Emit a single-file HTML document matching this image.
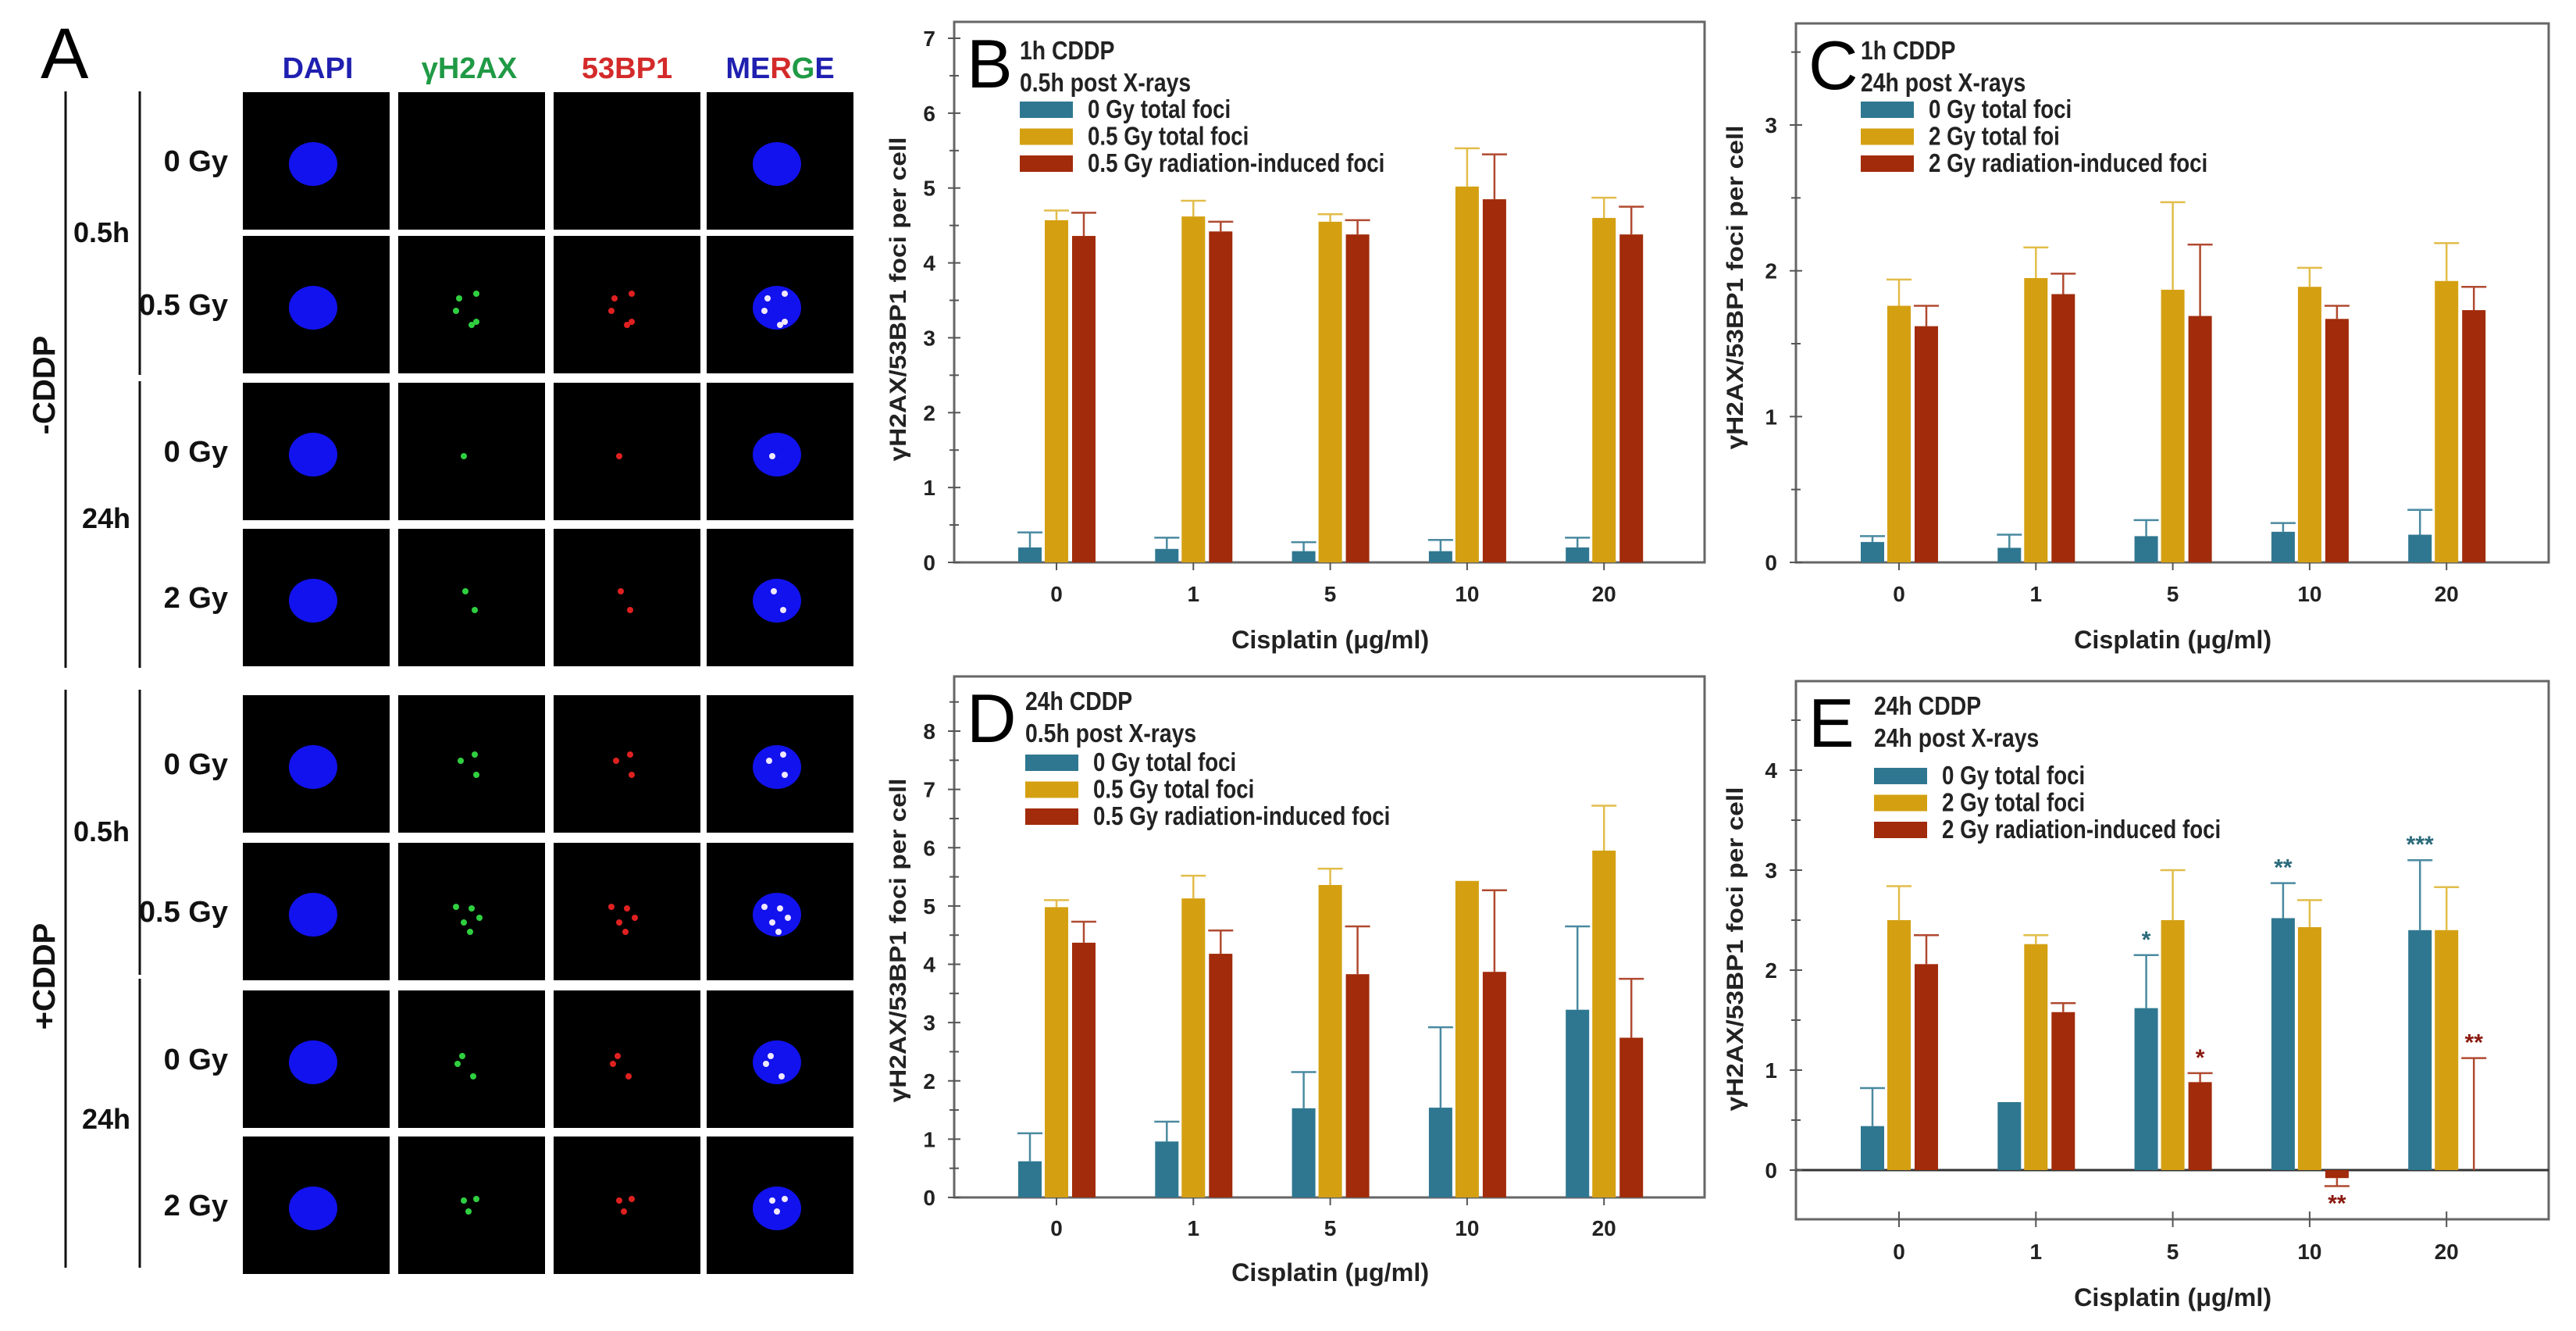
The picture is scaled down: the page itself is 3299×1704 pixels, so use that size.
<!DOCTYPE html>
<html><head><meta charset="utf-8"><style>
html,body{margin:0;padding:0;background:#fff;}
svg{display:block;font-family:"Liberation Sans",Arial,sans-serif;}
</style></head><body>
<svg id="fig" width="3299" height="1704" viewBox="0 0 3299 1704" xmlns="http://www.w3.org/2000/svg">
<g id="panelA">
<text x="52" y="100" font-size="92" fill="#000">A</text>
<text x="407" y="100" font-size="38" font-weight="bold" fill="#1f1fb0" text-anchor="middle">DAPI</text>
<text x="601" y="100" font-size="38" font-weight="bold" fill="#1f9a45" text-anchor="middle">γH2AX</text>
<text x="803" y="100" font-size="38" font-weight="bold" fill="#d42a2a" text-anchor="middle">53BP1</text>
<text x="999" y="100" font-size="38" font-weight="bold" text-anchor="middle"><tspan fill="#1f1fb0">ME</tspan><tspan fill="#d42a2a">R</tspan><tspan fill="#1f9a45">G</tspan><tspan fill="#1f1fb0">E</tspan></text>
</g>
<g id="panels"></g>
</svg>
<script>
// ---------- Panel A layout ----------
const NS="http://www.w3.org/2000/svg";
function mk(tag,attrs,parent){const e=document.createElementNS(NS,tag);for(const k in attrs)e.setAttribute(k,attrs[k]);parent.appendChild(e);return e;}
const pA=document.getElementById('panelA');
const colX=[311,510,709,905], cw=188;
const rowY=[118,302,490,677,890,1079,1268,1455], rh=176;
const rowLabels=["0 Gy","0.5 Gy","0 Gy","2 Gy","0 Gy","0.5 Gy","0 Gy","2 Gy"];
const foci=[[],[[-12,-12],[10,-18],[-16,4],[4,22],[10,18]],[[-6,2]],[[-4,-12],[8,12]],
 [[-10,-8],[8,-16],[10,10]],[[-16,-10],[4,-8],[-6,10],[14,4],[2,22]],[[-8,-8],[-14,2],[6,18]],[[-6,-10],[10,-12],[0,4]]];
rowY.forEach((y,ri)=>{
  const t=mk('text',{x:292,y:y+rh/2+13,'font-size':38,'font-weight':'bold','text-anchor':'end',fill:'#111'},pA);
  t.textContent=rowLabels[ri];
  
  
  colX.forEach((x,ci)=>{
    const g=mk('g',{},pA);
    
    
    mk('rect',{x:x,y:y,width:cw,height:rh,fill:'#000'},g);
    const cx=x+cw/2-4, cy=y+rh/2+4;
    if(ci===0||ci===3) mk('ellipse',{cx:cx,cy:cy,rx:31,ry:28,fill:'#1212ee'},g);
    const col=ci===1?'#2fd040':ci===2?'#e02020':'#f0e8ff';
    if(ci>0) foci[ri].forEach(p=>mk('circle',{cx:cx+p[0],cy:cy+p[1],r:4,fill:col},g));
  });
});
const lines=[[84,117,84,855],[179,117,179,480],[179,488,179,855],[84,883,84,1623],[179,883,179,1248],[179,1253,179,1623]];
lines.forEach((l,i)=>{const e=mk('line',{x1:l[0],y1:l[1],x2:l[2],y2:l[3],stroke:'#111','stroke-width':3},pA);
 
 });
const grpLbl=[["0.5h",130,310],["24h",136,676],["0.5h",130,1077],["24h",136,1445]];
grpLbl.forEach((g,i)=>{const t=mk('text',{x:g[1],y:g[2],'font-size':36,'font-weight':'bold','text-anchor':'middle',fill:'#111'},pA);t.textContent=g[0];
 
 });
[["-CDDP",493],["+CDDP",1250]].forEach((c,i)=>{const t=mk('text',{x:0,y:0,'font-size':40,'font-weight':'bold','text-anchor':'middle',fill:'#111',transform:`translate(70,${c[1]}) rotate(-90)`},pA);t.textContent=c[0];
 
 });

// ---------- Chart data ----------
const categories=["0","1","5","10","20"];
const bTeal=[0.2,0.18,0.15,0.15,0.2], bTealErr=[0.4,0.33,0.27,0.3,0.33];
const bGold=[4.57,4.62,4.55,5.02,4.6], bGoldErr=[4.7,4.83,4.65,5.53,4.87];
const bRed=[4.36,4.42,4.38,4.85,4.38], bRedErr=[4.67,4.55,4.57,5.45,4.75];
const bTicks=[0,1,2,3,4,5,6,7];
const cTeal=[0.14,0.1,0.18,0.21,0.19], cTealErr=[0.18,0.19,0.29,0.27,0.36];
const cGold=[1.76,1.95,1.87,1.89,1.93], cGoldErr=[1.94,2.16,2.47,2.02,2.19];
const cRed=[1.62,1.84,1.69,1.67,1.73], cRedErr=[1.76,1.98,2.18,1.76,1.89];
const cTicks=[0,1,2,3];
const dTeal=[0.62,0.96,1.53,1.54,3.22], dTealErr=[1.1,1.3,2.15,2.92,4.65];
const dGold=[4.98,5.13,5.36,5.43,5.95], dGoldErr=[5.1,5.52,5.64,5.43,6.72];
const dRed=[4.37,4.18,3.83,3.87,2.74], dRedErr=[4.73,4.58,4.65,5.27,3.75];
const dTicks=[0,1,2,3,4,5,6,7,8];
const eTeal=[0.44,0.68,1.62,2.52,2.4], eTealErr=[0.82,0.68,2.15,2.87,3.1];
const eGold=[2.5,2.26,2.5,2.43,2.4], eGoldErr=[2.84,2.35,3.0,2.7,2.83];
const eRed=[2.06,1.58,0.88,-0.08,0], eRedErr=[2.35,1.67,0.97,-0.16,1.12];
const eTicks=[0,1,2,3,4];
const eTealStars=["","","*","**","***"];
const eRedStars=["","","*","**","**"];

const COLORS=["#2f7790","#d4a012","#a12b0a"], ERRC=["#4a8aa0","#e2bd4a","#b04a30"];
const root=document.getElementById('panels');

function chart(o){
  const g=mk('g',{},root);
  
  
  const yS=v=>o.y0-v*(o.y0-o.yTopPx)/(o.vTop);
  const xS=i=>o.x0+i*175.3;
  const fr=mk('rect',{x:o.L,y:o.T,width:o.R-o.L,height:o.B-o.T,fill:'none',stroke:'#666','stroke-width':3},g);
  
  
  if(o.zeroLine){const z=mk('line',{x1:o.L,x2:o.R,y1:yS(0),y2:yS(0),stroke:'#333','stroke-width':3},g);
    
    }
  o.ticks.forEach(t=>{
    const y=yS(t);
    mk('line',{x1:o.L-8,x2:o.L+8,y1:y,y2:y,stroke:'#555','stroke-width':2},g);
    const tx=mk('text',{x:o.L-24,y:y+10,'font-size':28,'font-weight':'bold','text-anchor':'end',fill:'#222'},g);
    tx.textContent=t;
    
    
    const ym=yS(t+0.5); if(ym>o.T) mk('line',{x1:o.L-6,x2:o.L+6,y1:ym,y2:ym,stroke:'#555','stroke-width':2},g);
  });
  categories.forEach((c,i)=>{
    mk('line',{x1:xS(i),x2:xS(i),y1:o.B-10,y2:o.B+10,stroke:'#555','stroke-width':2},g);
    const tx=mk('text',{x:xS(i),y:o.xLabY,'font-size':28,'font-weight':'bold','text-anchor':'middle',fill:'#222'},g);
    tx.textContent=c;
    
    
  });
  const offs=[-34,0,35];
  o.series.forEach((s,si)=>{
    s.v.forEach((v,i)=>{
      const cx=xS(i)+offs[si];
      const y0=yS(0), yv=yS(v);
      const r=mk('rect',{x:cx-15,y:Math.min(y0,yv),width:30,height:Math.max(Math.abs(y0-yv),v===0?0:1),fill:COLORS[si]},g);
      
      
      const ye=yS(s.e[i]);
      if(Math.abs(ye-yv)>1){
        const el=mk('path',{d:`M${cx},${yv}V${ye}M${cx-16},${ye}H${cx+16}`,stroke:ERRC[si],'stroke-width':2.5,fill:'none'},g);
        
        
      }
      if(s.stars&&s.stars[i]){
        const below=s.e[i]<0;
        const st=mk('text',{x:cx,y:below?ye+32:ye-10,'font-size':30,'font-weight':'bold','text-anchor':'middle',fill:si===0?'#2a6a7a':'#8a1a10'},g);
        st.textContent=s.stars[i];
        
        
      }
    });
  });
  const pl=mk('text',{x:o.L+16,y:o.T+84,'font-size':88,fill:'#000'},g);
  pl.textContent=o.id.toUpperCase();
  
  
  o.title.forEach((t,k)=>{
    const tx=mk('text',{x:0,y:0,'font-size':33,'font-weight':'bold',fill:'#222',transform:`translate(${o.legX},${o.titleY+k*41}) scale(0.86,1)`},g);
    tx.textContent=t;
    
    
  });
  o.legend.forEach((t,k)=>{
    const y=o.legY+k*34.5;
    const sw=mk('rect',{x:o.legX,y:y-10,width:68,height:21,fill:COLORS[k]},g);
    
    
    const tx=mk('text',{x:0,y:0,'font-size':33,'font-weight':'bold',fill:'#222',transform:`translate(${o.legX+87},${y+11}) scale(0.84,1)`},g);
    tx.textContent=t;
    
    
  });
  const yt=mk('text',{x:0,y:0,'font-size':30,'font-weight':'bold','text-anchor':'middle',fill:'#222',transform:`translate(${o.ytX},${o.ytY}) rotate(-90)`,textLength:415,lengthAdjust:'spacingAndGlyphs'},g);
  yt.textContent="γH2AX/53BP1 foci per cell";
  
  
  const xt=mk('text',{x:xS(2),y:o.xTitleY,'font-size':32,'font-weight':'bold','text-anchor':'middle',fill:'#222',textLength:253,lengthAdjust:'spacingAndGlyphs'},g);
  xt.textContent="Cisplatin (μg/ml)";
  
  
}
chart({id:'b',L:1222,R:2183,T:28,B:720,y0:720,yTopPx:49,vTop:7,x0:1353,ticks:bTicks,xLabY:770,xTitleY:830,
  ytX:1160,ytY:383,legX:1306,titleY:76,legY:140,title:["1h CDDP","0.5h post X-rays"],
  legend:["0 Gy total foci","0.5 Gy total foci","0.5 Gy radiation-induced foci"],
  series:[{v:bTeal,e:bTealErr},{v:bGold,e:bGoldErr},{v:bRed,e:bRedErr}]});
chart({id:'c',L:2300,R:3264,T:30,B:720,y0:720,yTopPx:160,vTop:3,x0:2432,ticks:cTicks,xLabY:770,xTitleY:830,
  ytX:2232,ytY:368,legX:2383,titleY:76,legY:140,title:["1h CDDP","24h post X-rays"],
  legend:["0 Gy total foci","2 Gy total foi","2 Gy radiation-induced foci"],
  series:[{v:cTeal,e:cTealErr},{v:cGold,e:cGoldErr},{v:cRed,e:cRedErr}]});
chart({id:'d',L:1222,R:2183,T:866,B:1533,y0:1533,yTopPx:936,vTop:8,x0:1353,ticks:dTicks,xLabY:1582,xTitleY:1640,
  ytX:1160,ytY:1204,legX:1313,titleY:909,legY:976,title:["24h CDDP","0.5h post X-rays"],
  legend:["0 Gy total foci","0.5 Gy total foci","0.5 Gy radiation-induced foci"],
  series:[{v:dTeal,e:dTealErr},{v:dGold,e:dGoldErr},{v:dRed,e:dRedErr}]});
chart({id:'e',L:2300,R:3264,T:872,B:1561,y0:1498,yTopPx:986,vTop:4,x0:2432,ticks:eTicks,xLabY:1612,xTitleY:1672,zeroLine:true,
  ytX:2232,ytY:1215,legX:2400,titleY:915,legY:993,title:["24h CDDP","24h post X-rays"],
  legend:["0 Gy total foci","2 Gy total foci","2 Gy radiation-induced foci"],
  series:[{v:eTeal,e:eTealErr,stars:eTealStars},{v:eGold,e:eGoldErr},{v:eRed,e:eRedErr,stars:eRedStars}]});
</script>
</body></html>
